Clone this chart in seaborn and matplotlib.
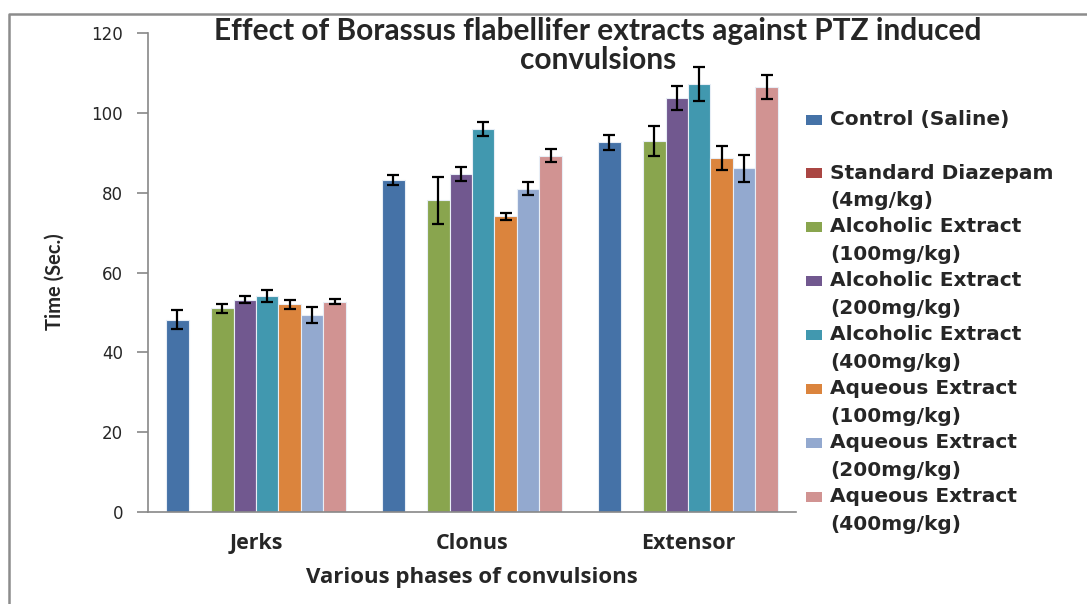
import matplotlib
matplotlib.use("Agg")
import matplotlib.pyplot as plt
from matplotlib.patches import Rectangle
from matplotlib.lines import Line2D
import numpy as np
import pandas as pd
import seaborn as sns

phases = ["Jerks", "Clonus", "Extensor"]
groups = ["Control (Saline)", "Standard Diazepam\n(4mg/kg)",
          "Alcoholic Extract\n(100mg/kg)", "Alcoholic Extract\n(200mg/kg)",
          "Alcoholic Extract\n(400mg/kg)", "Aqueous Extract\n(100mg/kg)",
          "Aqueous Extract\n(200mg/kg)", "Aqueous Extract\n(400mg/kg)"]
colors = ["#4572A7", "#AA4643", "#89A54E", "#71588F",
          "#4198AF", "#DB843D", "#93A9CF", "#D19392"]

# mean time (sec) per group, in phase order Jerks, Clonus, Extensor
control = [48.2, 83.2, 92.6]
diazepam = [0, 0, 0]
alc100 = [51.0, 78.1, 93.0]
alc200 = [53.2, 84.7, 103.7]
alc400 = [54.2, 95.9, 107.3]
aq100 = [52.0, 74.1, 88.7]
aq200 = [49.4, 81.0, 86.1]
aq400 = [52.7, 89.3, 106.5]

control_err = [2.3, 1.2, 1.8]
diazepam_err = [0, 0, 0]
alc100_err = [1.2, 5.9, 3.7]
alc200_err = [0.9, 1.75, 3.1]
alc400_err = [1.5, 1.7, 4.3]
aq100_err = [1.1, 0.9, 3.0]
aq200_err = [2.0, 1.7, 3.4]
aq400_err = [0.6, 1.6, 3.0]

means = [control, diazepam, alc100, alc200, alc400, aq100, aq200, aq400]
errs = [control_err, diazepam_err, alc100_err, alc200_err, alc400_err,
        aq100_err, aq200_err, aq400_err]

rows = []
for g, vals in zip(groups, means):
    for p, v in zip(phases, vals):
        rows.append({"phase": p, "group": g, "value": v})
df = pd.DataFrame(rows)

sns.set_style("white")
fig = plt.figure(figsize=(10.87, 6.04), dpi=100)
ax = fig.add_axes([148 / 1087, 1 - 512 / 604, (796 - 148) / 1087, (512 - 33) / 604])

sns.barplot(data=df, x="phase", y="value", hue="group", hue_order=groups,
            order=phases, palette=colors, errorbar=None, width=0.833, gap=0,
            edgecolor="#e8eef6", linewidth=0.8, saturation=1, legend=False, ax=ax)

# error bars at the bar centres
for cont, err in zip(ax.containers, errs):
    for bar, e in zip(cont.patches, err):
        if e == 0:
            continue
        ax.errorbar(bar.get_x() + bar.get_width() / 2, bar.get_height(), yerr=e,
                    fmt="none", ecolor="black", elinewidth=1.6, capsize=4.5,
                    capthick=1.6, zorder=5)

ax.set_xlim(-0.5, 2.5)
ax.set_ylim(0, 120)
ax.set_yticks(np.arange(0, 121, 20))
ax.set_xticks(range(3))
ax.set_xticklabels(phases, fontfamily="Open Sans", fontweight="bold", fontsize=15.5)
ax.set_xticks([-0.5, 0.5, 1.5, 2.5], minor=True)
ax.tick_params(axis="x", which="major", length=0, pad=15)
ax.tick_params(axis="x", which="minor", length=6, color="#888888", width=1.2,
               direction="out")
ax.tick_params(axis="y", length=8, color="#888888", width=1.2, direction="out",
               pad=10, labelsize=12, left=True)
for lab in ax.get_yticklabels():
    lab.set_fontfamily("DejaVu Sans")

for s in ["top", "right"]:
    ax.spines[s].set_visible(False)
for s in ["left", "bottom"]:
    ax.spines[s].set_color("#888888")
    ax.spines[s].set_linewidth(1.2)

ax.set_xlabel("Various phases of convulsions", fontfamily="Open Sans",
              fontweight="bold", fontsize=16, va="center")
ax.xaxis.set_label_coords(0.5, (512 - 578) / 479)
ax.set_ylabel("Time (Sec.)", fontfamily="Lato", fontweight="bold", fontsize=14.5,
              va="center")
ax.yaxis.set_label_coords((55 - 148) / 648, (512 - 282) / 479)

fig.text(598 / 1087, 1 - 31 / 604, "Effect of Borassus flabellifer extracts against PTZ induced",
         ha="center", va="center", fontfamily="Lato", fontweight="bold", fontsize=21.5)
fig.text(598 / 1087, 1 - 60 / 604, "convulsions",
         ha="center", va="center", fontfamily="Lato", fontweight="bold", fontsize=21.5)

# legend drawn by hand so the swatch sits on the first line of each label
y0 = 120
for i, (g, c) in enumerate(zip(groups, colors)):
    yc = y0 + 53 + (i - 1) * 54 if i > 0 else y0
    fig.patches.append(Rectangle((806 / 1087, 1 - (yc + 5) / 604), 16 / 1087, 10 / 604,
                                 transform=fig.transFigure, facecolor=c,
                                 edgecolor="none"))
    for j, line in enumerate(g.split("\n")):
        fig.text(830 / 1087, 1 - (yc + j * 27) / 604, line, ha="left", va="center",
                 fontfamily="DejaVu Sans", fontweight="bold", fontsize=14.5)

# chart area border (top and left edges visible)
fig.lines.append(Line2D([9 / 1087, 9 / 1087, 1.0], [0.0, 1 - 14 / 604, 1 - 14 / 604],
                        transform=fig.transFigure, color="#8c8c8c", linewidth=1.8))

fig.savefig("out.png", dpi=100)
